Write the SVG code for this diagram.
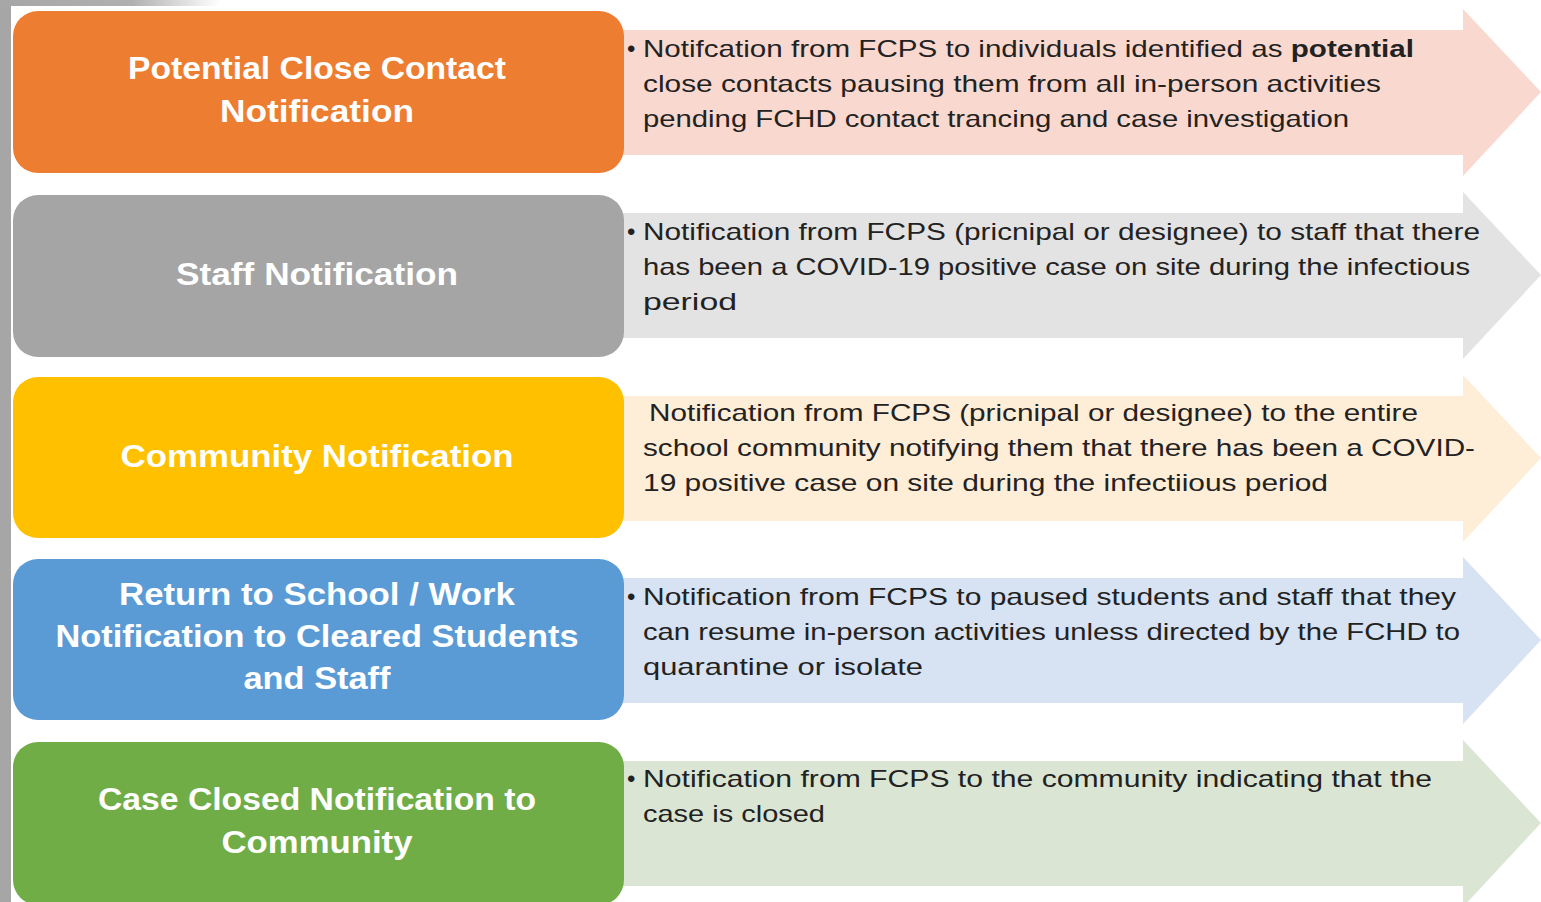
<svg xmlns="http://www.w3.org/2000/svg" width="1541" height="902" viewBox="0 0 1541 902">
<defs>
<linearGradient id="topfade" x1="0" y1="0" x2="1" y2="0">
<stop offset="0" stop-color="#a6a6a6"/>
<stop offset="0.6" stop-color="#b0b0b0"/>
<stop offset="1" stop-color="#ffffff"/>
</linearGradient>
</defs>
<style>
.title{font-family:"Liberation Sans",Arial,sans-serif;font-weight:bold;font-size:31px;fill:#ffffff;text-anchor:middle}
.body{font-family:"Liberation Sans",Arial,sans-serif;font-size:24px;fill:#222222}
.b{font-weight:bold}
</style>
<rect x="0" y="0" width="1541" height="902" fill="#ffffff"/>
<rect x="0" y="0" width="11" height="902" fill="#a6a6a6"/>
<rect x="0" y="0" width="220" height="6" fill="url(#topfade)"/>

<g id="row1">
<polygon points="600,30 1463,30 1463,9 1541,92 1463,176 1463,155 600,155" fill="#F9D9CF"/>
<rect x="13" y="11" width="611" height="162" rx="25" ry="25" fill="#ED7D31"/>
<text class="title" x="317" y="79" textLength="378" lengthAdjust="spacingAndGlyphs">Potential Close Contact</text>
<text class="title" x="317" y="122" textLength="194" lengthAdjust="spacingAndGlyphs">Notification</text>
<text class="body" x="627" y="57">•</text>
<text class="body" x="643" y="57" textLength="771" lengthAdjust="spacingAndGlyphs">Notifcation  from FCPS to individuals identified as <tspan class="b">potential</tspan></text>
<text class="body" x="643" y="92" textLength="738" lengthAdjust="spacingAndGlyphs">close contacts pausing them from all in-person activities</text>
<text class="body" x="643" y="127" textLength="706" lengthAdjust="spacingAndGlyphs">pending FCHD contact trancing and case investigation</text>
</g>

<g id="row2">
<polygon points="600,213 1463,213 1463,192 1541,275 1463,359 1463,338 600,338" fill="#E3E3E3"/>
<rect x="13" y="195" width="611" height="162" rx="25" ry="25" fill="#A5A5A5"/>
<text class="title" x="317" y="285" textLength="282" lengthAdjust="spacingAndGlyphs">Staff Notification</text>
<text class="body" x="627" y="240">•</text>
<text class="body" x="643" y="240" textLength="837" lengthAdjust="spacingAndGlyphs">Notification from FCPS (pricnipal or designee) to staff that there</text>
<text class="body" x="643" y="275" textLength="827" lengthAdjust="spacingAndGlyphs">has been a COVID-19 positive case on site during the infectious</text>
<text class="body" x="643" y="310" textLength="94" lengthAdjust="spacingAndGlyphs">period</text>
</g>

<g id="row3">
<polygon points="600,396 1463,396 1463,375 1541,458 1463,542 1463,521 600,521" fill="#FEEDD7"/>
<rect x="13" y="377" width="611" height="161" rx="25" ry="25" fill="#FFC000"/>
<text class="title" x="317" y="467" textLength="393" lengthAdjust="spacingAndGlyphs">Community Notification</text>
<text class="body" x="649" y="421" textLength="769" lengthAdjust="spacingAndGlyphs">Notification from FCPS (pricnipal or designee) to the entire</text>
<text class="body" x="643" y="456" textLength="832" lengthAdjust="spacingAndGlyphs">school community notifying them that there has been a COVID-</text>
<text class="body" x="643" y="491" textLength="685" lengthAdjust="spacingAndGlyphs">19 positive case on site during the infectiious period</text>
</g>

<g id="row4">
<polygon points="600,578 1463,578 1463,557 1541,640 1463,724 1463,703 600,703" fill="#D7E2F2"/>
<rect x="13" y="559" width="611" height="161" rx="25" ry="25" fill="#5B9BD5"/>
<text class="title" x="317" y="605" textLength="396" lengthAdjust="spacingAndGlyphs">Return to School / Work</text>
<text class="title" x="317" y="647" textLength="523" lengthAdjust="spacingAndGlyphs">Notification to Cleared Students</text>
<text class="title" x="317" y="689" textLength="147" lengthAdjust="spacingAndGlyphs">and Staff</text>
<text class="body" x="627" y="605">•</text>
<text class="body" x="643" y="605" textLength="813" lengthAdjust="spacingAndGlyphs">Notification  from FCPS to paused students and staff that they</text>
<text class="body" x="643" y="640" textLength="817" lengthAdjust="spacingAndGlyphs">can resume in-person activities unless directed by the FCHD to</text>
<text class="body" x="643" y="675" textLength="280" lengthAdjust="spacingAndGlyphs">quarantine or isolate</text>
</g>

<g id="row5">
<polygon points="600,761 1463,761 1463,740 1541,823 1463,907 1463,886 600,886" fill="#DAE6D3"/>
<rect x="13" y="742" width="611" height="163" rx="25" ry="25" fill="#70AD47"/>
<text class="title" x="317" y="810" textLength="438" lengthAdjust="spacingAndGlyphs">Case Closed Notification to</text>
<text class="title" x="317" y="853" textLength="191" lengthAdjust="spacingAndGlyphs">Community</text>
<text class="body" x="627" y="787">•</text>
<text class="body" x="643" y="787" textLength="789" lengthAdjust="spacingAndGlyphs">Notification from FCPS to the community indicating that the</text>
<text class="body" x="643" y="822" textLength="182" lengthAdjust="spacingAndGlyphs">case is closed</text>
</g>
</svg>
